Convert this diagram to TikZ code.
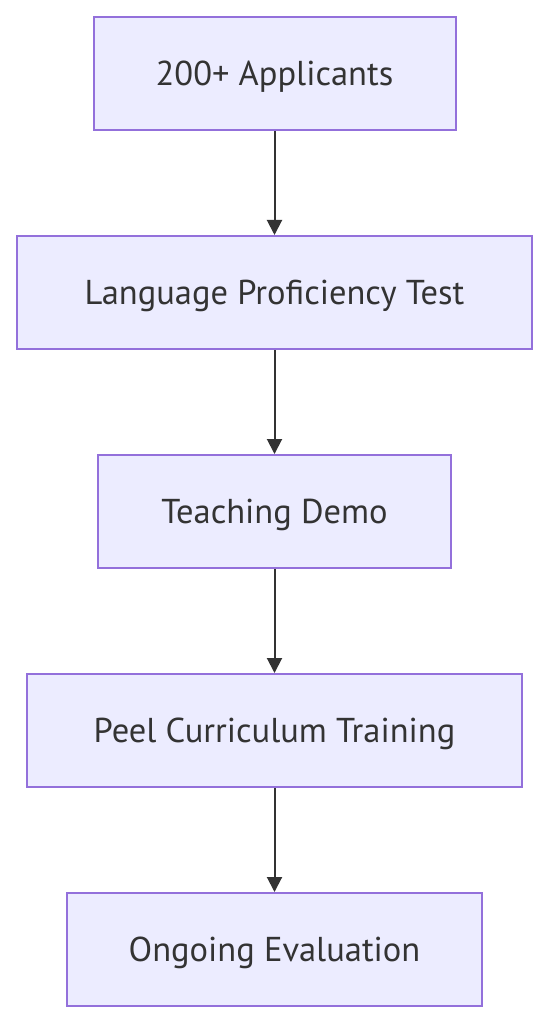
\documentclass[tikz,border=0pt]{standalone}
\usepackage{fontspec}
\setmainfont{PT Sans}
\usetikzlibrary{arrows.meta}
\definecolor{boxfill}{HTML}{ECECFF}
\definecolor{boxline}{HTML}{9370DB}
\definecolor{arrowc}{HTML}{333333}
\tikzset{
  flowbox/.style={draw=boxline, fill=boxfill, line width=2pt, inner sep=0pt,
    font=\fontsize{34.5}{41}\selectfont, text=arrowc, text depth=0pt},
  flowarrow/.style={draw=arrowc, line width=2pt, -{Triangle[length=15pt,width=15pt]}}
}
\begin{document}
\begin{tikzpicture}[x=1pt,y=1pt]
\useasboundingbox (0,0) rectangle (549,-1024);
\node[flowbox, minimum width=362pt, minimum height=113pt] (a) at (274.5,-73.5) {200+ Applicants};
\node[flowbox, minimum width=515pt, minimum height=113pt] (b) at (274.5,-292.5) {Language Proficiency Test};
\node[flowbox, minimum width=353pt, minimum height=113pt] (c) at (274.5,-511.5) {Teaching Demo};
\node[flowbox, minimum width=495pt, minimum height=113pt] (d) at (274.5,-730.5) {Peel Curriculum Training};
\node[flowbox, minimum width=415pt, minimum height=113pt] (e) at (274.5,-949.5) {Ongoing Evaluation};
\draw[flowarrow] (a.south) -- (b.north);
\draw[flowarrow] (b.south) -- (c.north);
\draw[flowarrow] (c.south) -- (d.north);
\draw[flowarrow] (d.south) -- (e.north);
\end{tikzpicture}
\end{document}
